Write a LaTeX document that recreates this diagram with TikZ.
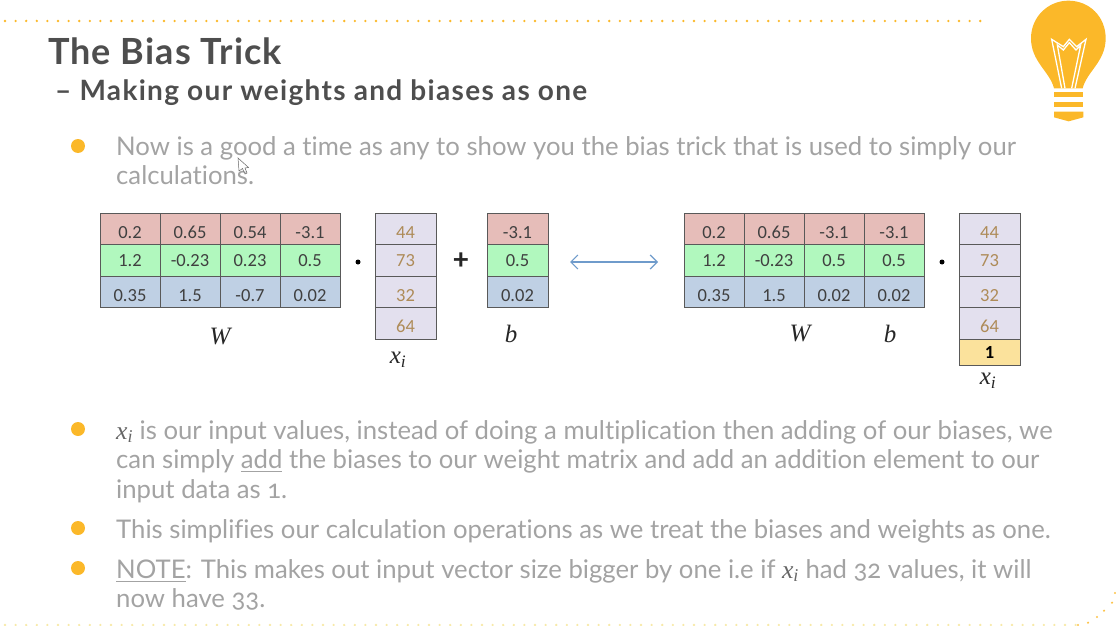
\documentclass[tikz,border=0pt]{standalone}
\usepackage{amsmath}
\usepackage{fontspec}
\setmainfont{Lato}[Ligatures={NoCommon}, Numbers=OldStyle]
\newfontfamily\tablefont{Carlito}
\newfontfamily\symbfont{Liberation Serif}
\usetikzlibrary{arrows.meta}
\definecolor{lampyellow}{HTML}{FBB829}
\definecolor{dotpale}{HTML}{F7E9A8}
\definecolor{titlegray}{HTML}{4E4E4E}
\definecolor{bodygray}{HTML}{A3A3A3}
\definecolor{rowred}{HTML}{E6BDB9}
\definecolor{rowgreen}{HTML}{B1F8BE}
\definecolor{rowblue}{HTML}{BFD0E4}
\definecolor{vecpurple}{HTML}{E3E0EE}
\definecolor{vecyellow}{HTML}{FBE29C}
\definecolor{vectext}{HTML}{AE8B58}
\definecolor{arrowblue}{HTML}{6F9BCB}
\newcommand{\xivar}{{\symbfont\itshape x\textsubscript{i}}}
\tikzset{
	cell/.style={draw=black!65, line width=0.7pt, anchor=north west, minimum width=60, inner sep=0pt, outer sep=0pt},
	celltext/.style={font=\tablefont\fontsize{18.5}{20}\selectfont, text=black!75},
	vectext/.style={font=\tablefont\fontsize{18.5}{20}\selectfont, text=vectext},
	symb/.style={font=\symbfont\itshape\fontsize{25}{27}\selectfont, text=black!85},
	opdot/.style={circle, fill=black, inner sep=0pt, minimum size=5},
	bodyline/.style={anchor=base west, inner sep=0pt, text=bodygray, font=\fontsize{25.7}{28}\selectfont},
	bullet/.style={circle, fill=lampyellow, inner sep=0pt, minimum size=14}
}
\begin{document}
\begin{tikzpicture}[x=1pt,y=-1pt]
	\useasboundingbox (0,0) rectangle (1116,626);

	%dotted lines
	\foreach \x in {0,...,92}
		\fill[lampyellow] (5+10.6*\x,21) circle (1.3);
	\foreach \x in {0,...,101}
		\fill[dotpale] (5+10.6*\x,625) circle (1.3);
	\foreach \x/\y in {1078/625,1088/622.7,1097/617,1104/610.7,1112/602.7,1115/593}
		\fill[lampyellow!85] (\x,\y) circle (1.2);

	%title
	\node[anchor=base west, inner sep=0pt, text=titlegray, font=\addfontfeature{LetterSpace=3}\fontsize{36}{38}\selectfont\bfseries] (title) at (48,64) {The Bias Trick};
	\node[anchor=base west, inner sep=0pt, text=titlegray, font=\addfontfeature{LetterSpace=4.7}\fontsize{28}{30}\selectfont\bfseries] (subtitle) at (55,100) {-- Making our weights and biases as one};

	%bulb
	\begin{scope}[shift={(960,0)}, scale=1/3]
		\fill[lampyellow] (282,265) .. controls (270,215) and (213,185) .. (213,115)
			.. controls (213,50) and (265,2) .. (325,2)
			.. controls (388,2) and (437,50) .. (437,115)
			.. controls (437,185) and (380,215) .. (368,265) -- cycle;
		\fill[lampyellow] (282,275) rectangle (370,292);
		\fill[lampyellow] (282,305) rectangle (370,322);
		\fill[lampyellow] (282,335) -- (370,335) -- (370,352) -- (326,364) -- (282,352) -- cycle;
		\draw[white, line width=1.3pt, line join=miter] (305,265) -- (275,118) -- (310,140) -- (328,118) -- (350,140) -- (378,118) -- (345,265);
		\draw[white, line width=1.3pt] (315,265) -- (292,135) -- (310,150) -- (328,128) -- (348,150) -- (362,135) -- (335,265);
	\end{scope}

	%first bullet
	\node[bullet] (bulleta) at (78,146) {};
	\node[bodyline] (texta) at (116,155) {Now is a good a time as any to show you the bias trick that is used to simply our};
	\node[bodyline] (textb) at (116,184) {calculations.};

	%mouse pointer
	\draw[black!60, fill=white, fill opacity=0.5, line width=0.5pt] (238,158) -- (239,171) -- (242.5,168.5) -- (245,174) -- (247,173) -- (245,168) -- (248.5,167.5) -- cycle;

	%left matrix
	\foreach \val [count=\i from 0] in {0.2,0.65,0.54,-3.1}
		\node[cell, fill=rowred, minimum height=31.5, label={[celltext, yshift=-3.5]center:\val}] (wa\i) at (100+60*\i,213) {};
	\foreach \val [count=\i from 0] in {1.2,-0.23,0.23,0.5}
		\node[cell, fill=rowgreen, minimum height=31.5, label={[celltext]center:\val}] (wb\i) at (100+60*\i,244.5) {};
	\foreach \val [count=\i from 0] in {0.35,1.5,-0.7,0.02}
		\node[cell, fill=rowblue, minimum height=31.5, label={[celltext, yshift=-3.5]center:\val}] (wc\i) at (100+60*\i,276) {};
	\node[symb] (wleft) at (220,337) {W};
	\node[opdot] (dotleft) at (358,262) {};

	%left input vector
	\foreach \val/\row/\shifty in {44/213/-3.5,73/244.5/0,32/276/-3.5,64/307.5/-3.5}
		\node[cell, fill=vecpurple, minimum width=61, minimum height=31.5, label={[vectext, yshift=\shifty]center:\val}] (xa\row) at (375,\row) {};
	\node[symb] (xleft) at (398,360) {\xivar};
	\node[symb, font=\fontsize{30}{30}\selectfont\bfseries] (plus) at (461,261) {+};

	%biases
	\node[cell, fill=rowred, minimum width=61, minimum height=31.5, label={[celltext, yshift=-3.5]center:-3.1}] (ba) at (487,213) {};
	\node[cell, fill=rowgreen, minimum width=61, minimum height=31.5, label={[celltext]center:0.5}] (bb) at (487,244.5) {};
	\node[cell, fill=rowblue, minimum width=61, minimum height=31.5, label={[celltext, yshift=-3.5]center:0.02}] (bc) at (487,276) {};
	\node[symb] (bleft) at (511,334) {b};

	%arrow
	\coordinate (arrowl) at (570,262);
	\coordinate (arrowr) at (658,262);
	\draw[{Straight Barb[length=7pt,width=14pt]}-{Straight Barb[length=7pt,width=14pt]}, arrowblue, line width=1.2pt] (arrowl) -- (arrowr);

	%right matrix
	\foreach \val [count=\i from 0] in {0.2,0.65,-3.1,-3.1}
		\node[cell, fill=rowred, minimum height=31.5, label={[celltext, yshift=-3.5]center:\val}] (va\i) at (684+60*\i,213) {};
	\foreach \val [count=\i from 0] in {1.2,-0.23,0.5,0.5}
		\node[cell, fill=rowgreen, minimum height=31.5, label={[celltext]center:\val}] (vb\i) at (684+60*\i,244.5) {};
	\foreach \val [count=\i from 0] in {0.35,1.5,0.02,0.02}
		\node[cell, fill=rowblue, minimum height=31.5, label={[celltext, yshift=-3.5]center:\val}] (vc\i) at (684+60*\i,276) {};
	\node[symb] (wright) at (800,334) {W};
	\node[symb] (bright) at (890,334) {b};
	\node[opdot] (dotright) at (942,262) {};

	%right input vector
	\foreach \val/\row/\shifty in {44/213/-3.5,73/244.5/0,32/276/-3.5,64/307.5/-3.5}
		\node[cell, fill=vecpurple, minimum width=61, minimum height=31.5, label={[vectext, yshift=\shifty]center:\val}] (xb\row) at (959,\row) {};
	\node[cell, fill=vecyellow, minimum width=61, minimum height=25.5, label={[celltext, text=black, font=\tablefont\fontsize{18.5}{20}\selectfont\bfseries]center:1}] (xbone) at (959,339.5) {};
	\node[symb] (xright) at (988,381) {\xivar};

	%remaining bullets
	\node[bullet] (bulletb) at (78,429) {};
	\node[bodyline] (textc) at (116,439) {{\color{black!60}\xivar} is our input values, instead of doing a multiplication then adding of our biases, we};
	\node[bodyline] (textd) at (116,468) {can simply \underline{add} the biases to our weight matrix and add an addition element to our};
	\node[bodyline] (texte) at (116,498) {input data as 1.};
	\node[bullet] (bulletc) at (78,528) {};
	\node[bodyline] (textf) at (116,538) {This simplifies our calculation operations as we treat the biases and weights as one.};
	\node[bullet] (bulletd) at (78,568) {};
	\node[bodyline] (textg) at (116,578) {\underline{NOTE}: This makes out input vector size bigger by one i.e if {\color{black!60}\xivar} had 32 values, it will};
	\node[bodyline] (texth) at (116,607) {now have 33.};
\end{tikzpicture}
\end{document}
